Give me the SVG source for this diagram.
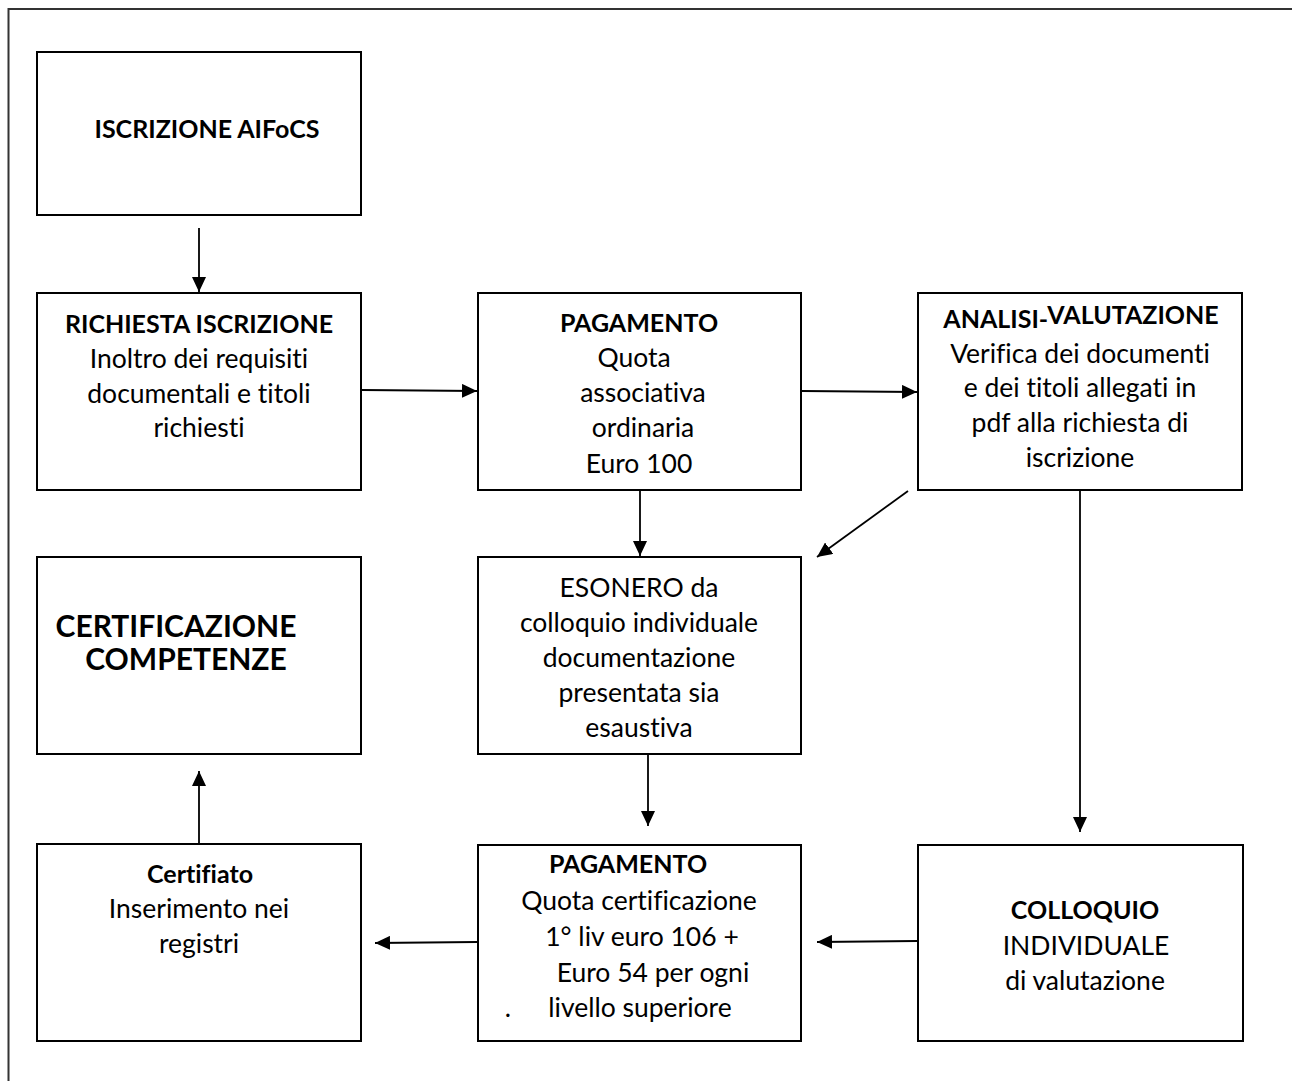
<svg xmlns="http://www.w3.org/2000/svg" width="1292" height="1081" viewBox="0 0 1292 1081">
<defs>
<marker id="arr" viewBox="0 0 15 14" refX="15" refY="7" markerWidth="15" markerHeight="14" markerUnits="userSpaceOnUse" orient="auto">
<path d="M0,0 L15,7 L0,14 Z" fill="#000"/>
</marker>
<style>
.box{fill:#fff;stroke:#000;stroke-width:2}
.t{font-family:Lato,"Open Sans","Liberation Sans",sans-serif;font-size:26.5px;fill:#000;text-anchor:middle;font-variant-ligatures:none}
.b{font-weight:bold;font-size:25px}
.big{font-size:30px}
.c{fill:none;stroke:#000;stroke-width:1.8;marker-end:url(#arr)}
</style>
</defs>
<rect width="1292" height="1081" fill="#fff"/>
<path d="M8.5,1081 V9 H1292" fill="none" stroke="#333" stroke-width="2"/>

<g id="n1">
<rect class="box" x="37" y="52" width="324" height="163"/>
<text class="t b" x="207" y="138">ISCRIZIONE AIFoCS</text>
</g>
<g id="n2">
<rect class="box" x="37" y="293" width="324" height="197"/>
<text class="t b" x="199" y="333">RICHIESTA ISCRIZIONE</text>
<text class="t" x="199" y="368">Inoltro dei requisiti</text>
<text class="t" x="199" y="403">documentali e titoli</text>
<text class="t" x="199" y="437">richiesti</text>
</g>
<g id="n3">
<rect class="box" x="478" y="293" width="323" height="197"/>
<text class="t b" x="639" y="332">PAGAMENTO</text>
<text class="t" x="634" y="367">Quota</text>
<text class="t" x="643" y="402">associativa</text>
<text class="t" x="643" y="437">ordinaria</text>
<text class="t" x="639" y="473">Euro 100</text>
</g>
<g id="n4">
<rect class="box" x="918" y="293" width="324" height="197"/>
<text class="t b" x="1081" y="328">ANALISI-<tspan dy="-4">VALUTAZIONE</tspan></text>
<text class="t" x="1080" y="363">Verifica dei documenti</text>
<text class="t" x="1080" y="397">e dei titoli allegati in</text>
<text class="t" x="1080" y="432">pdf alla richiesta di</text>
<text class="t" x="1080" y="467">iscrizione</text>
</g>
<g id="n5">
<rect class="box" x="478" y="557" width="323" height="197"/>
<text class="t" x="639" y="597">ESONERO da</text>
<text class="t" x="639" y="632">colloquio individuale</text>
<text class="t" x="639" y="667">documentazione</text>
<text class="t" x="639" y="702">presentata sia</text>
<text class="t" x="639" y="737">esaustiva</text>
</g>
<g id="n6">
<rect class="box" x="37" y="557" width="324" height="197"/>
<text class="t b big" x="176" y="637">CERTIFICAZIONE</text>
<text class="t b big" x="186" y="670">COMPETENZE</text>
</g>
<g id="n7">
<rect class="box" x="37" y="844" width="324" height="197"/>
<text class="t b" x="200" y="883">Certifiato</text>
<text class="t" x="199" y="918">Inserimento nei</text>
<text class="t" x="199" y="953">registri</text>
</g>
<g id="n8">
<rect class="box" x="478" y="845" width="323" height="196"/>
<text class="t b" x="628" y="873">PAGAMENTO</text>
<text class="t" x="639" y="910">Quota certificazione</text>
<text class="t" x="642" y="946">1° liv euro 106 +</text>
<text class="t" x="653" y="982">Euro 54 per ogni</text>
<text class="t" x="640" y="1017">livello superiore</text>
<text class="t" x="508" y="1017">.</text>
</g>
<g id="n9">
<rect class="box" x="918" y="845" width="325" height="196"/>
<text class="t b" x="1085" y="919">COLLOQUIO</text>
<text class="t" x="1086" y="955">INDIVIDUALE</text>
<text class="t" x="1085" y="990">di valutazione</text>
</g>

<g id="connectors">
<line class="c" x1="199" y1="228" x2="199" y2="292"/>
<line class="c" x1="362" y1="390" x2="477" y2="391"/>
<line class="c" x1="802" y1="391" x2="917" y2="392"/>
<line class="c" x1="640" y1="491" x2="640" y2="556"/>
<line class="c" x1="908" y1="491" x2="817" y2="557"/>
<line class="c" x1="1080" y1="491" x2="1080" y2="832"/>
<line class="c" x1="648" y1="755" x2="648" y2="826"/>
<line class="c" x1="917" y1="941" x2="817" y2="942"/>
<line class="c" x1="477" y1="942" x2="375" y2="943"/>
<line class="c" x1="199" y1="843" x2="199" y2="771"/>
</g>
</svg>
